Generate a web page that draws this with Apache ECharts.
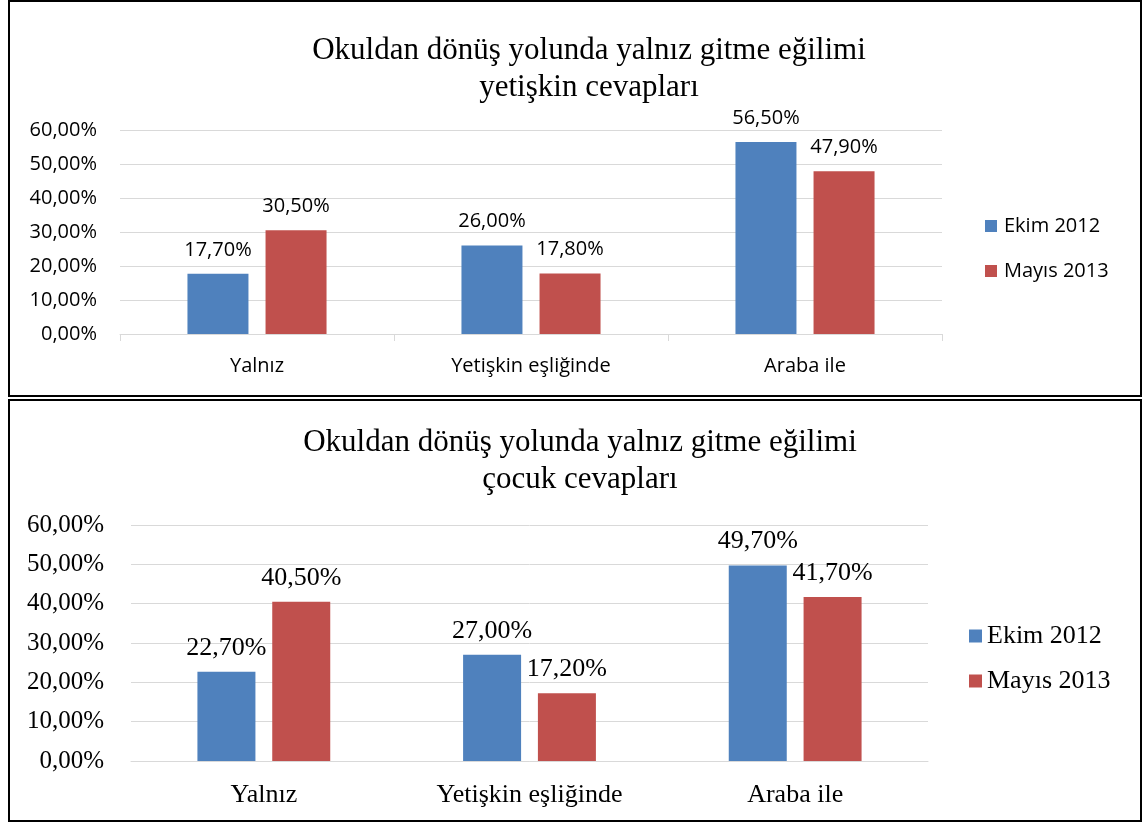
<!DOCTYPE html>
<html>
<head>
<meta charset="utf-8">
<script src="https://cdn.jsdelivr.net/npm/echarts@6/dist/echarts.min.js"></script>
<style>
  html, body { margin: 0; padding: 0; background: #fff; }
  #chart { width: 1148px; height: 823px; }
</style>
</head>
<body>
<div id="chart"></div>
<script>
// veriler
var categories = ['Yalnız', 'Yetişkin eşliğinde', 'Araba ile'];
var seriesNames = ['Ekim 2012', 'Mayıs 2013'];
var yetiskinEkim = [17.7, 26.0, 56.5];
var yetiskinMayis = [30.5, 17.8, 47.9];
var cocukEkim = [22.7, 27.0, 49.7];
var cocukMayis = [40.5, 17.2, 41.7];
var yTicks = [0, 10, 20, 30, 40, 50, 60];

var blue = '#4F81BD';
var red = '#C0504D';
var sans = 'Open Sans';
var serif = 'Liberation Serif';

function pct(v) {
    return v.toFixed(2).replace('.', ',') + '%';
}

var myChart = echarts.init(document.getElementById('chart'));

function yAxis(grid, font, size, margin) {
    return {
        type: 'value',
        gridIndex: grid,
        min: yTicks[0],
        max: yTicks[yTicks.length - 1],
        interval: 10,
        axisLine: {show: false},
        axisTick: {show: false},
        splitLine: {lineStyle: {color: '#D9D9D9', width: 1}},
        axisLabel: {
            color: '#000', fontFamily: font, fontSize: size, margin: margin,
            formatter: function(v) { return pct(v); }
        }
    };
}

function xAxis(grid, font, size, margin, ticks) {
    return {
        type: 'category',
        gridIndex: grid,
        data: categories,
        axisLine: {lineStyle: {color: '#D9D9D9', width: 1}},
        axisTick: {show: ticks, length: 7, lineStyle: {color: '#D9D9D9'}},
        axisLabel: {color: '#000', fontFamily: font, fontSize: size, margin: margin}
    };
}

function bar(name, data, color, idx, font, size, dist, width, gap) {
    return {
        name: name,
        type: 'bar',
        xAxisIndex: idx,
        yAxisIndex: idx,
        data: data,
        barWidth: width,
        barGap: gap,
        itemStyle: {color: color},
        label: {
            show: true, position: 'top', distance: dist,
            color: '#000', fontFamily: font, fontSize: size,
            formatter: function(p) { return pct(p.value); }
        }
    };
}

var option = {
    animation: false,
    title: [{
        text: 'Okuldan dönüş yolunda yalnız gitme eğilimi\nyetişkin cevapları',
        left: 584, top: 27, textAlign: 'center',
        textStyle: {fontFamily: serif, fontSize: 31, fontWeight: 'normal', color: '#000', lineHeight: 37}
    }, {
        text: 'Okuldan dönüş yolunda yalnız gitme eğilimi\nçocuk cevapları',
        left: 575, top: 419, textAlign: 'center',
        textStyle: {fontFamily: serif, fontSize: 31, fontWeight: 'normal', color: '#000', lineHeight: 37}
    }],
    legend: [{
        data: seriesNames,
        orient: 'vertical',
        left: 985, top: 214, padding: 0,
        itemWidth: 12, itemHeight: 12, itemGap: 21,
        icon: 'rect',
        textStyle: {fontFamily: sans, fontSize: 20, color: '#000', lineHeight: 24, padding: [0, 0, 0, 2]}
    }, {
        data: seriesNames,
        orient: 'vertical',
        left: 969, top: 622, padding: 0,
        itemWidth: 13, itemHeight: 13, itemGap: 17,
        icon: 'rect',
        textStyle: {fontFamily: serif, fontSize: 26, color: '#000', lineHeight: 28}
    }],
    grid: [
        {left: 120, right: 206, top: 130, height: 204},
        {left: 131, right: 220, top: 525, height: 236}
    ],
    xAxis: [xAxis(0, sans, 20, 22, true), xAxis(1, serif, 26, 21, false)],
    yAxis: [yAxis(0, sans, 20, 23), yAxis(1, serif, 25, 27)],
    series: [
        bar(seriesNames[0], yetiskinEkim, blue, 0, sans, 20, 14, 61, '28%'),
        bar(seriesNames[1], yetiskinMayis, red, 0, sans, 20, 14, 61, '28%'),
        bar(seriesNames[0], cocukEkim, blue, 1, serif, 26, 11, 58, '29%'),
        bar(seriesNames[1], cocukMayis, red, 1, serif, 26, 11, 58, '29%')
    ],
    graphic: [{
        type: 'rect',
        shape: {x: 9, y: 1, width: 1132, height: 395},
        style: {fill: null, stroke: '#000', lineWidth: 2},
        silent: true
    }, {
        type: 'rect',
        shape: {x: 9, y: 400, width: 1132, height: 421},
        style: {fill: null, stroke: '#000', lineWidth: 2},
        silent: true
    }]
};

myChart.setOption(option);
</script>
</body>
</html>
